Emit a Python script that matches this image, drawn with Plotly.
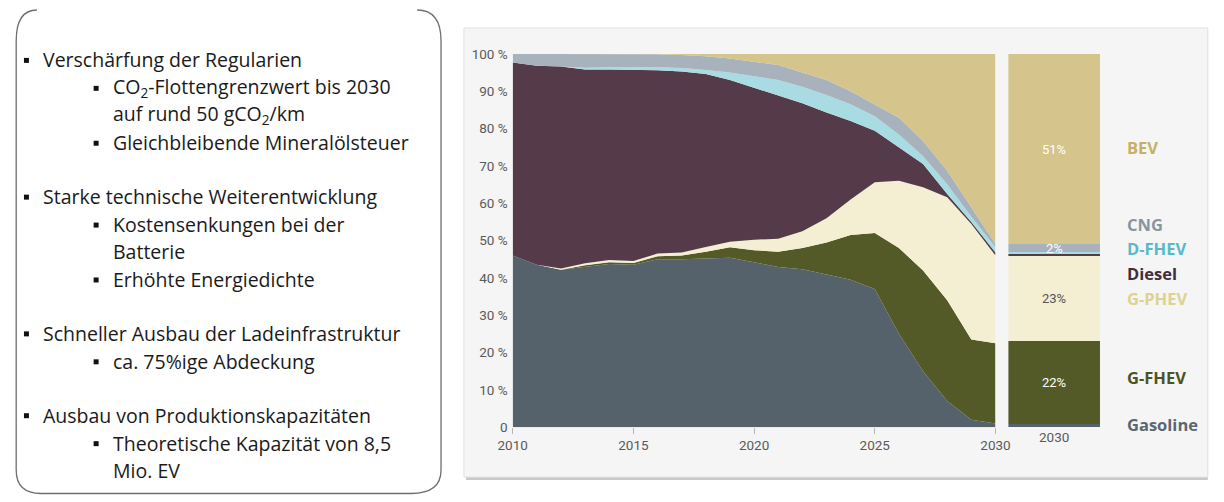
import plotly.graph_objects as go

# ---------------- data ----------------
years = list(range(2010, 2031))
series_names = ["Gasoline", "G-FHEV", "G-PHEV", "Diesel", "D-FHEV", "CNG", "BEV"]
gasoline = [46.0, 43.5, 42.2, 43.0, 43.7, 43.5, 45.0, 45.0, 45.1, 45.4, 44.2, 42.9, 42.3, 41.0, 39.5, 37.0, 25.0, 15.0, 7.0, 2.0, 1.0]
g_fhev   = [0.0, 0.0, 0.0, 0.4, 0.5, 0.5, 0.8, 1.0, 1.9, 2.8, 3.2, 4.1, 5.7, 8.5, 12.0, 15.0, 23.0, 27.0, 27.0, 21.5, 21.5]
g_phev   = [0.0, 0.0, 0.3, 0.5, 0.6, 0.5, 0.7, 0.8, 1.3, 1.5, 2.8, 3.5, 4.5, 6.5, 9.5, 13.6, 18.0, 22.3, 27.6, 30.9, 23.5]
diesel   = [51.7, 53.3, 54.1, 51.9, 51.0, 51.3, 49.1, 48.5, 46.3, 43.3, 40.8, 38.5, 34.3, 28.3, 21.0, 13.8, 9.0, 6.2, 0.9, 0.6, 0.8]
d_fhev   = [0.0, 0.0, 0.0, 0.5, 0.6, 0.7, 0.8, 0.9, 1.1, 2.0, 3.0, 4.0, 4.4, 4.7, 4.5, 3.9, 3.4, 2.1, 2.6, 1.4, 1.4]
cng      = [2.3, 3.2, 3.4, 3.7, 3.6, 3.5, 3.5, 3.5, 3.7, 3.8, 4.0, 4.0, 3.8, 4.0, 3.5, 3.2, 4.5, 4.1, 3.6, 2.5, 0.9]
bev      = [0.0, 0.0, 0.0, 0.0, 0.0, 0.0, 0.1, 0.3, 0.6, 1.2, 2.0, 3.0, 5.0, 7.0, 10.0, 13.5, 17.1, 23.3, 31.3, 41.1, 50.9]

bar_category = ["2030"]
bar_2030 = [1.0, 22.0, 23.0, 0.5, 0.5, 2.0, 51.0]       # same order as series_names
bar_labels = ["", "22%", "23%", "", "", "2%", "51%"]

y_tickvals = [0, 10, 20, 30, 40, 50, 60, 70, 80, 90, 100]
y_ticktext = ["0", "10 %", "20 %", "30 %", "40 %", "50 %", "60 %", "70 %", "80 %", "90 %", "100 %"]
x_tickvals = [2010, 2015, 2020, 2025, 2030]

legend_names = ["BEV", "CNG", "D-FHEV", "Diesel", "G-PHEV", "G-FHEV", "Gasoline"]

bullets = [
    (1, "Verschärfung der Regularien", True),
    (2, "CO<sub>2</sub>-Flottengrenzwert bis 2030", True),
    (2, "auf rund 50 gCO<sub>2</sub>/km", False),
    (2, "Gleichbleibende Mineralölsteuer", True),
    (1, "Starke technische Weiterentwicklung", True),
    (2, "Kostensenkungen bei der", True),
    (2, "Batterie", False),
    (2, "Erhöhte Energiedichte", True),
    (1, "Schneller Ausbau der Ladeinfrastruktur", True),
    (2, "ca. 75%ige Abdeckung", True),
    (1, "Ausbau von Produktionskapazitäten", True),
    (2, "Theoretische Kapazität von 8,5", True),
    (2, "Mio. EV", False),
]

# ---------------- styles ----------------
W, H = 1224, 502
colors = {
    "Gasoline": "#56626b",
    "G-FHEV": "#545a27",
    "G-PHEV": "#f4eed3",
    "Diesel": "#553b49",
    "D-FHEV": "#a9dbe3",
    "CNG": "#a8b2bc",
    "BEV": "#d5c48b",
}
label_colors = {
    "BEV": "#c6b068",
    "CNG": "#8795a0",
    "D-FHEV": "#58b9c8",
    "Diesel": "#3f2f3a",
    "G-PHEV": "#ddd28f",
    "G-FHEV": "#4d5323",
    "Gasoline": "#5b6770",
}
legend_y = [147, 224, 248, 273, 298, 377, 424]
bullet_y = [59, 87, 114, 142, 196, 224, 251, 279, 333, 361, 415, 443, 470]
bar_label_colors = {"22%": "#ffffff", "23%": "#555555", "2%": "#ffffff", "51%": "#ffffff"}

# the photographed page shows the figure slightly shrunk and offset;
# layout positions below are given in target-picture pixels and mapped back.
SX, SY, OX, OY = 0.98, 0.97, 12.0, 7.0


def px(x):
    v = ((x - OX) / SX) / W
    return min(max(v, 0.001), 0.999)


def py(y):
    v = 1 - ((y - OY) / SY) / H
    return min(max(v, 0.001), 0.999)


Y0, Y100 = 427, 53
X0, X1 = 512, 997

series_values = [gasoline, g_fhev, g_phev, diesel, d_fhev, cng, bev]

fig = go.Figure()
for name, vals in zip(series_names, series_values):
    fig.add_trace(go.Scatter(
        x=years, y=vals, name=name, mode="lines", stackgroup="one",
        line=dict(width=0, color=colors[name]), fillcolor=colors[name],
        xaxis="x", yaxis="y", showlegend=False, hoverinfo="skip",
    ))

for name, val in zip(series_names, bar_2030):
    fig.add_trace(go.Bar(
        x=bar_category, y=[val], name=name, width=1,
        marker=dict(color=colors[name], line=dict(width=0)),
        xaxis="x2", yaxis="y2", showlegend=False, hoverinfo="skip",
    ))

annotations = []
cum = 0
for val, lab in zip(bar_2030, bar_labels):
    mid = cum + val / 2
    cum += val
    if lab:
        annotations.append(dict(
            x=0.5, y=mid, xref="x2 domain", yref="y2", text=lab, showarrow=False,
            xanchor="center", yanchor="middle",
            font=dict(family="Roboto", size=13, color=bar_label_colors[lab]),
        ))

for name, yy in zip(legend_names, legend_y):
    annotations.append(dict(
        x=px(1127), y=py(yy), xref="paper", yref="paper", text=f"<b>{name}</b>",
        showarrow=False, xanchor="left", yanchor="middle",
        font=dict(family="Open Sans", size=16.5, color=label_colors[name]),
    ))

shapes = []
shapes.append(dict(type="rect", xref="paper", yref="paper", layer="below",
                   x0=px(465), x1=px(1219), y0=py(480), y1=py(29),
                   fillcolor="#c9c9c9", line=dict(width=0)))
shapes.append(dict(type="rect", xref="paper", yref="paper", layer="below",
                   x0=px(463), x1=px(1217), y0=py(477), y1=py(27),
                   fillcolor="#f5f5f5", line=dict(color="#e2e2e2", width=1)))

path = (f"M {px(34)},{py(9)} Q {px(8)},{py(9)} {px(8)},{py(40)} "
        f"L {px(8)},{py(470)} Q {px(8)},{py(500)} {px(38)},{py(500)} "
        f"L {px(410)},{py(500)} Q {px(440)},{py(500)} {px(440)},{py(470)} "
        f"L {px(440)},{py(40)} Q {px(440)},{py(9)} {px(416)},{py(9)}")
shapes.append(dict(type="path", xref="paper", yref="paper", path=path,
                   line=dict(color="#6e6e6e", width=1.3)))

for (lvl, txt, has_bullet), yy in zip(bullets, bullet_y):
    tx = 38 if lvl == 1 else 108
    bx = 21 if lvl == 1 else 91
    if has_bullet:
        shapes.append(dict(type="rect", xref="paper", yref="paper",
                           x0=px(bx), x1=px(bx + 5), y0=py(yy + 3), y1=py(yy - 2),
                           fillcolor="#111111", line=dict(width=0)))
    annotations.append(dict(
        x=px(tx), y=py(yy), xref="paper", yref="paper", text=txt, showarrow=False,
        xanchor="left", yanchor="middle",
        font=dict(family="Open Sans", size=19.5, color="#1a1a1a"),
    ))

axis_font = dict(family="Roboto", size=13.5, color="#5a5a5a")
fig.update_layout(
    width=W, height=H, margin=dict(l=0, r=0, t=0, b=0),
    paper_bgcolor="white", plot_bgcolor="rgba(0,0,0,0)",
    barmode="stack", bargap=0,
    xaxis=dict(domain=[px(X0), px(X1)], range=[2010, 2030], tickvals=x_tickvals,
               ticks="outside", ticklen=6, tickcolor="#b5b5b5", tickwidth=1,
               showgrid=False, zeroline=False, showline=False, tickfont=axis_font,
               anchor="y", fixedrange=True),
    yaxis=dict(domain=[py(Y0), py(Y100)], range=[0, 100], tickvals=y_tickvals,
               ticktext=y_ticktext, ticks="", showgrid=False, zeroline=False,
               showline=False, tickfont=axis_font, anchor="x", ticklabelstandoff=4),
    xaxis2=dict(domain=[px(1010), px(1102)], type="category", range=[-0.5, 0.5], ticks="",
                showgrid=False, zeroline=False, showline=False, tickfont=axis_font,
                anchor="y2"),
    yaxis2=dict(domain=[py(Y0), py(Y100)], range=[0, 100], visible=False, anchor="x2"),
    annotations=annotations, shapes=shapes,
)

fig.write_html("out.html", config={"displayModeBar": False},
               post_script="document.body.style.margin='0px';")
